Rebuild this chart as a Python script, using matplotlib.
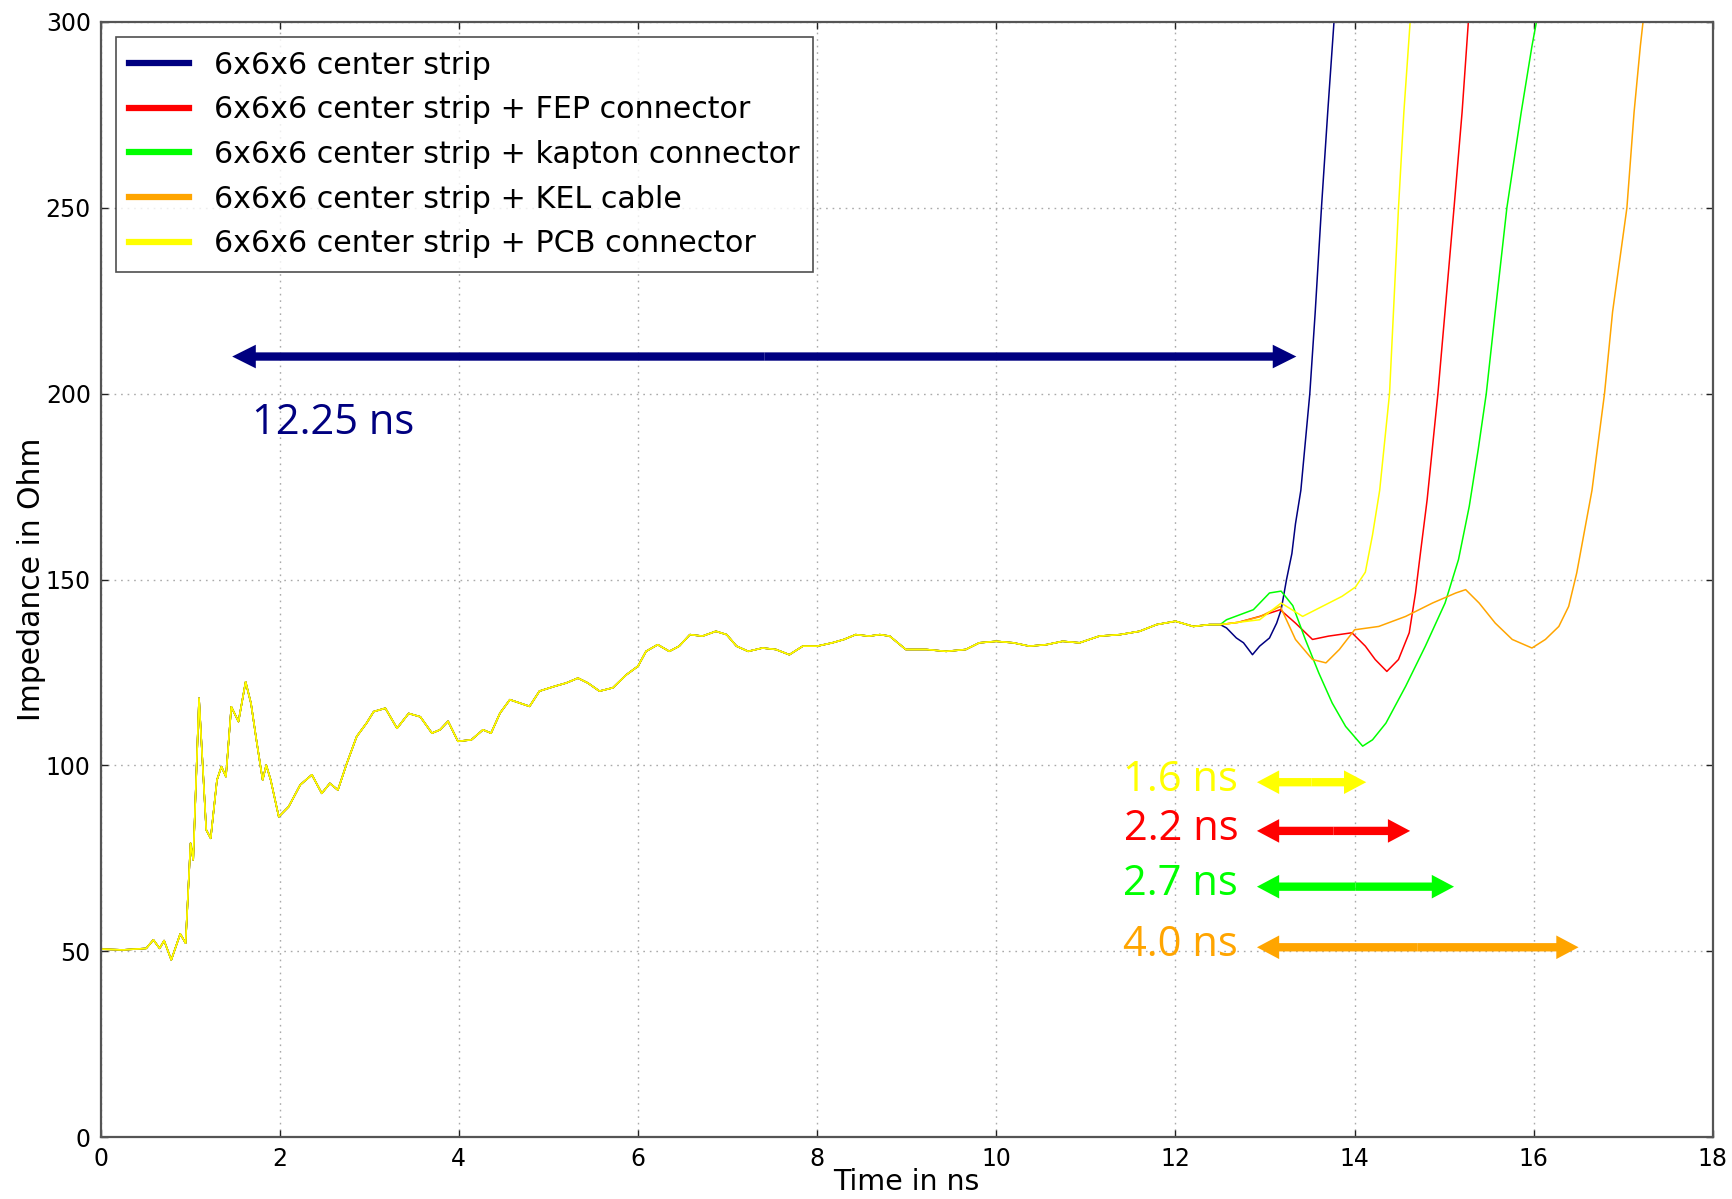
import matplotlib
matplotlib.use("Agg")
import matplotlib.pyplot as plt
from matplotlib.patches import FancyArrowPatch

# ---- TDR impedance traces (time in ns, impedance in Ohm) ----
# Shared part of all five traces up to 12.5 ns
common_t = [0.00, 0.25, 0.51, 0.59, 0.66, 0.71, 0.79, 0.89, 0.95, 1.005, 1.035,
            1.10, 1.18, 1.23, 1.30, 1.35, 1.40, 1.46, 1.54, 1.62, 1.68, 1.74,
            1.81, 1.85, 1.90, 1.99, 2.10, 2.23, 2.36, 2.47, 2.56, 2.65, 2.75,
            2.86, 2.97, 3.05, 3.18, 3.31, 3.44, 3.57, 3.70, 3.79, 3.88, 3.99,
            4.14, 4.27, 4.36, 4.46, 4.57, 4.68, 4.79, 4.90, 5.07, 5.20, 5.33,
            5.44, 5.57, 5.72, 5.87, 6.00, 6.09, 6.22, 6.35, 6.46, 6.58, 6.72,
            6.87, 6.99, 7.10, 7.23, 7.39, 7.54, 7.69, 7.84, 8.00, 8.17, 8.30,
            8.43, 8.58, 8.70, 8.81, 8.99, 9.22, 9.44, 9.66, 9.81, 10.00, 10.19,
            10.37, 10.56, 10.74, 10.93, 11.15, 11.38, 11.60, 11.79, 12.00,
            12.20, 12.38, 12.50]
common_z = [50.6, 50.4, 50.8, 53.1, 50.8, 52.9, 47.7, 54.7, 52.2, 79.1, 74.6,
            118.1, 82.7, 80.4, 96.1, 99.7, 97.0, 115.8, 111.8, 122.5, 116.7, 106.9,
            96.1, 100.1, 96.1, 86.2, 88.9, 94.8, 97.5, 92.5, 95.2, 93.4, 100.6,
            107.8, 111.4, 114.5, 115.4, 110.0, 114.0, 113.1, 108.7, 109.6, 111.9, 106.5,
            106.9, 109.6, 108.7, 114.1, 117.7, 116.8, 115.9, 120.0, 121.3, 122.2, 123.5,
            122.2, 120.0, 120.9, 124.4, 126.7, 130.7, 132.5, 130.7, 132.1, 135.2, 134.8,
            136.1, 135.2, 132.1, 130.7, 131.6, 131.2, 129.8, 132.1, 132.1, 133.0, 133.9,
            135.2, 134.8, 135.2, 134.8, 131.2, 131.2, 130.7, 131.2, 133.0, 133.4, 133.0,
            132.1, 132.5, 133.4, 133.0, 134.8, 135.2, 136.1, 137.9, 138.8,
            137.4, 137.9, 137.9]

# Individual end sections (reflection from the strip end / attached part)
strip_t = [12.57, 12.68, 12.76, 12.86, 12.94, 13.05, 13.13, 13.18, 13.24, 13.30,
           13.34, 13.40, 13.50, 13.56, 13.63, 13.70, 13.77, 13.82]
strip_z = [137.0, 134.3, 133.0, 129.8, 132.1, 134.3, 138.3, 141.9, 150.0, 157.0,
           165.0, 174.0, 200.0, 221.8, 250.0, 275.7, 300.0, 310.0]

fep_t = [12.70, 12.94, 13.17, 13.34, 13.53, 13.71, 13.97, 14.12, 14.23, 14.36,
         14.49, 14.61, 14.68, 14.74, 14.81, 14.93, 15.11, 15.20, 15.27, 15.30]
fep_z = [138.5, 140.1, 141.9, 138.3, 133.9, 134.8, 135.7, 132.1, 128.5, 125.3,
         128.5, 135.7, 146.4, 158.1, 171.5, 200.0, 250.0, 275.7, 300.0, 310.0]

kapton_t = [12.57, 12.87, 13.05, 13.18, 13.31, 13.45, 13.60, 13.75, 13.90, 14.09,
            14.20, 14.35, 14.57, 14.79, 15.01, 15.16, 15.28, 15.38, 15.47, 15.57,
            15.70, 15.86, 15.98, 16.03, 16.06]
kapton_z = [139.2, 141.9, 146.4, 146.9, 143.0, 133.9, 124.9, 116.8, 110.5, 105.2,
            106.9, 111.4, 121.3, 132.1, 143.7, 155.4, 169.7, 185.0, 200.0, 222.0,
            250.0, 275.7, 293.5, 300.0, 310.0]

kel_t = [12.70, 12.94, 13.17, 13.34, 13.53, 13.68, 13.83, 14.00, 14.27, 14.57,
         14.87, 15.13, 15.24, 15.39, 15.57, 15.76, 15.98, 16.13, 16.28, 16.39,
         16.48, 16.65, 16.79, 16.88, 17.04, 17.12, 17.19, 17.22, 17.25]
kel_z = [138.5, 140.0, 142.8, 133.9, 128.5, 127.6, 131.2, 136.5, 137.4, 140.1,
         143.7, 146.4, 147.3, 143.7, 138.3, 133.9, 131.6, 133.9, 137.4, 142.8,
         151.8, 174.0, 200.0, 222.0, 250.0, 275.7, 293.5, 300.0, 310.0]

pcb_t = [12.70, 12.94, 13.18, 13.42, 13.64, 13.86, 14.01, 14.12, 14.20, 14.28,
         14.39, 14.49, 14.55, 14.62, 14.65]
pcb_z = [138.5, 139.2, 143.7, 140.1, 142.8, 145.5, 148.0, 152.0, 162.0, 174.0,
         200.0, 250.0, 275.7, 300.0, 310.0]

labels = ["6x6x6 center strip",
          "6x6x6 center strip + FEP connector",
          "6x6x6 center strip + kapton connector",
          "6x6x6 center strip + KEL cable",
          "6x6x6 center strip + PCB connector"]
colors = ["#000080", "#ff0000", "#00ff00", "#ffa500", "#ffff00"]
tails = [(strip_t, strip_z), (fep_t, fep_z), (kapton_t, kapton_z),
         (kel_t, kel_z), (pcb_t, pcb_z)]

# Round-trip delays marked on the plot
main_delay_label = "12.25 ns"
main_delay_span = (1.47, 13.35)
main_delay_level = 210

delay_labels = ["1.6 ns", "2.2 ns", "2.7 ns", "4.0 ns"]
delay_colors = ["#ffff00", "#ff0000", "#00ff00", "#ffa500"]
delay_start = 12.91
delay_end = [14.13, 14.62, 15.11, 16.50]
delay_level = [95.5, 82.4, 67.4, 51.1]

x_ticks = [0, 2, 4, 6, 8, 10, 12, 14, 16, 18]
y_ticks = [0, 50, 100, 150, 200, 250, 300]

# ---- figure ----
fig = plt.figure(figsize=(17.33, 11.99), dpi=100)
ax = fig.add_axes([0.058, 0.0515, 0.9304, 0.9302])

for lab, col, (tt, zz) in zip(labels, colors, tails):
    ax.plot(common_t + tt, common_z + zz, color=col, lw=1.1, label=lab)

ax.set_xlim(0, 18)
ax.set_ylim(0, 300)
ax.set_xticks(x_ticks)
ax.set_yticks(y_ticks)
ax.tick_params(direction="in", top=True, right=True, length=5, width=1,
               labelsize=17, pad=7, colors="#222222", labelcolor="black")
for s in ax.spines.values():
    s.set_color("#555555")
    s.set_linewidth(1.6)
ax.grid(True, color="#aaaaaa", linestyle=(0, (1.2, 3.5)), lw=1.0)
ax.set_axisbelow(True)

ax.set_xlabel("Time in ns", fontsize=20.5, va="top")
ax.xaxis.set_label_coords(0.5, -0.0275)
ax.set_ylabel("Impedance in Ohm", fontsize=21.5, va="center")
ax.yaxis.set_label_coords(-0.0425, 0.5)

leg = ax.legend(loc="upper left", fontsize=21.7, frameon=True, fancybox=False,
                handlelength=2.0, handletextpad=0.8, labelspacing=0.52,
                borderpad=0.45)
leg.get_frame().set_edgecolor("#222222")
leg.get_frame().set_linewidth(1.2)
for h in leg.get_lines():
    h.set_linewidth(4.5)


def double_arrow(x0, x1, y, color, shaft, head_w, head_len):
    """Filled double-headed arrow; sizes in points."""
    xm = 0.5 * (x0 + x1)
    style = f"simple,head_length={head_len},head_width={head_w},tail_width={shaft}"
    for xe in (x0, x1):
        ax.add_patch(FancyArrowPatch((xm, y), (xe, y), arrowstyle=style,
                                     mutation_scale=1, color=color, lw=0,
                                     shrinkA=0, shrinkB=0, zorder=6))


ann_font = ["Open Sans", "DejaVu Sans"]

double_arrow(main_delay_span[0], main_delay_span[1], main_delay_level,
             "#000080", 6.0, 17.0, 17.0)
ax.text(1.69, 192, main_delay_label, color="#000080", fontsize=30,
        family=ann_font, ha="left", va="center", zorder=7)

for lab, col, xe, yl in zip(delay_labels, delay_colors, delay_end, delay_level):
    double_arrow(delay_start, xe, yl, col, 6.0, 17.0, 16.0)
    ax.text(12.70, yl + 0.6, lab, color=col, fontsize=30, family=ann_font,
            ha="right", va="center", zorder=7)

fig.savefig("out.png", dpi=100)
